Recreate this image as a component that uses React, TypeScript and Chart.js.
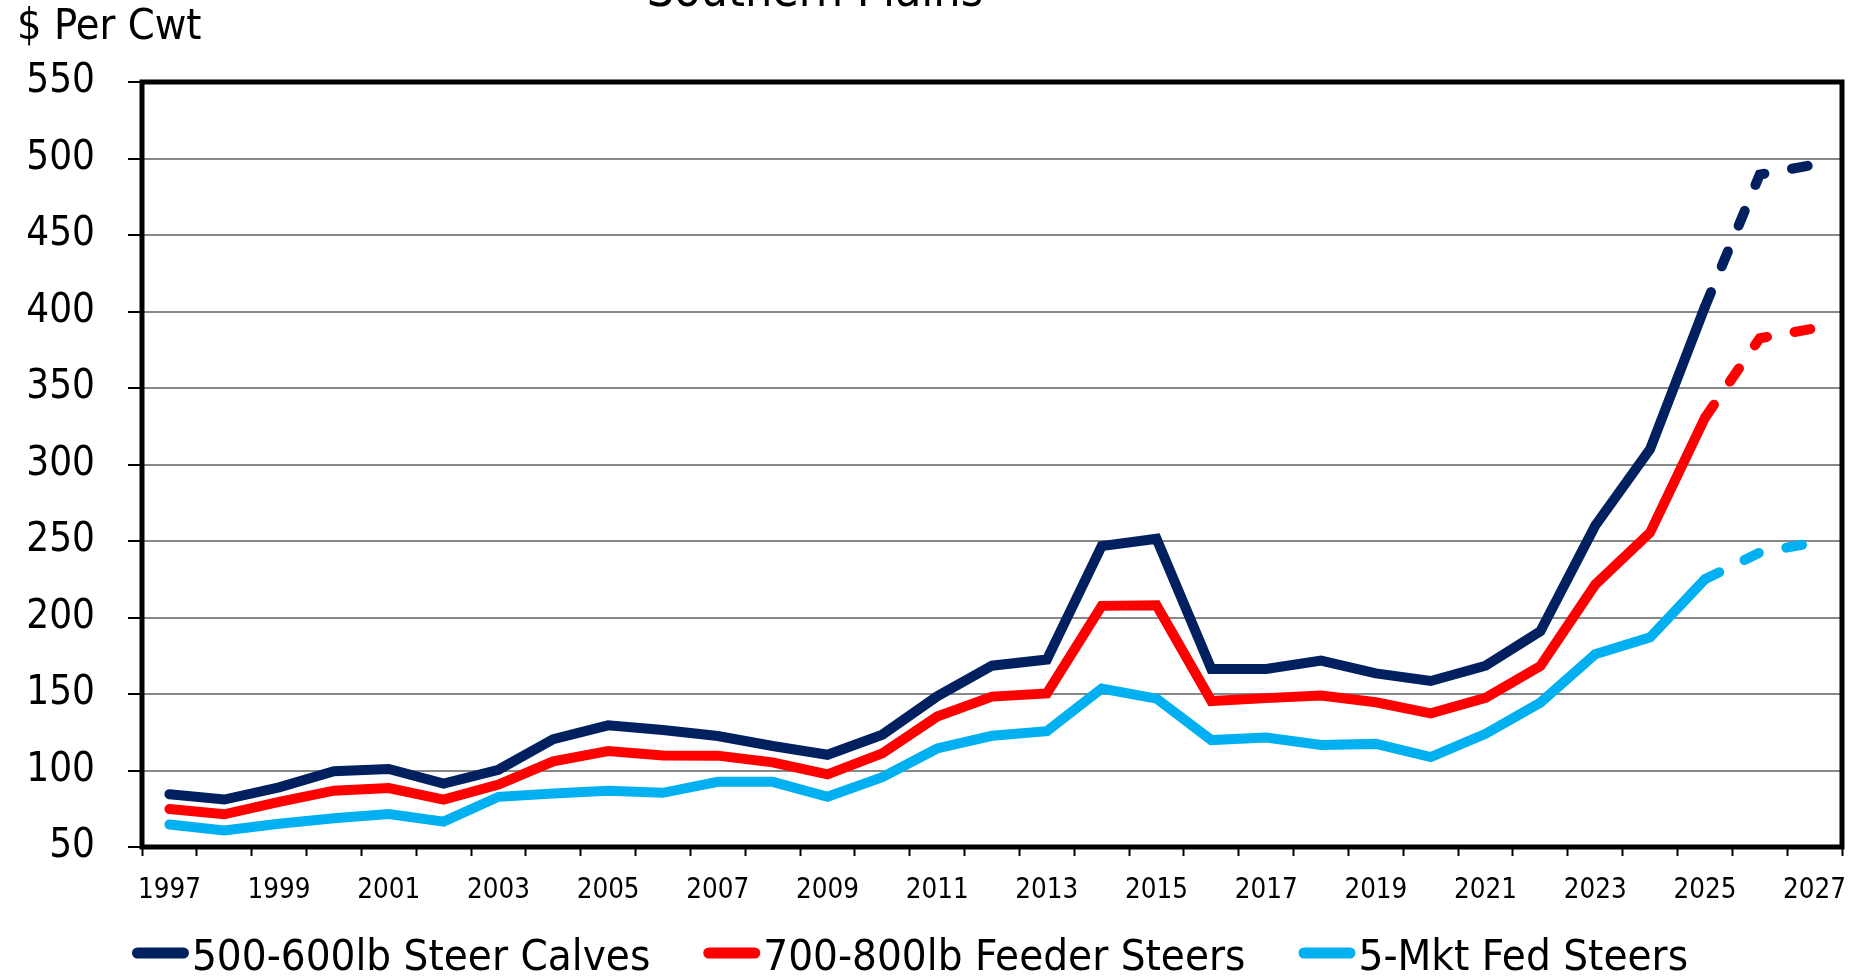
import React, { useEffect, useRef } from "react";
import { Chart, registerables } from "chart.js";

Chart.register(...registerables);

const years = [
  "1997", "1998", "1999", "2000", "2001", "2002", "2003", "2004", "2005", "2006",
  "2007", "2008", "2009", "2010", "2011", "2012", "2013", "2014", "2015", "2016",
  "2017", "2018", "2019", "2020", "2021", "2022", "2023", "2024", "2025", "2026", "2027",
];

const steerCalves = [
  84.5, 81, 89, 99.5, 101, 91.5, 100.5, 120.5, 129.5, 126.5,
  122.5, 116, 110.3, 123.4, 148.5, 168.5, 172.5, 246.7, 251.5, 166.4,
  166.4, 171.8, 163.5, 158.5, 168.5, 191, 260, 310, 403, 489.5, 496,
];

const feederSteers = [
  74.8, 71.4, 79.5, 86.8, 88.5, 81, 90.8, 106, 112.7, 109.8,
  109.7, 105.3, 97.5, 111.2, 135.3, 148.3, 150.4, 207.6, 208, 145.4,
  147.3, 149, 144.6, 137.4, 147.5, 168.3, 221.5, 255.5, 330.5, 382.5, 389,
];

const fedSteers = [
  64.7, 60.8, 65.2, 68.8, 71.5, 66.6, 82.8, 84.9, 86.8, 85.4,
  92.6, 92.6, 82.8, 95.6, 114.4, 122.7, 125.7, 153.5, 147, 119.9,
  121.5, 116.7, 117.4, 108.8, 124, 144.4, 176, 187, 225, 242.5, 249,
];

const seriesNames = ["500-600lb Steer Calves", "700-800lb Feeder Steers", "5-Mkt Fed Steers"];
const seriesColors = ["#002060", "#FF0000", "#00B0F0"];
const forecastFromYear = "2025";
const yMin = 50;
const yMax = 550;
const yStep = 50;
const titleText = "Southern Plains";
const yAxisTitle = "$ Per Cwt";

const CONDENSED = '"DejaVu Sans Condensed", "Liberation Sans Narrow", sans-serif';

const decorPlugin = {
  id: "decor",
  afterDraw(chart: any) {
    const ctx = chart.ctx as CanvasRenderingContext2D;
    const a = chart.chartArea;
    ctx.save();
    // plot border
    ctx.strokeStyle = "#000";
    ctx.lineWidth = 5;
    ctx.strokeRect(a.left, a.top, a.right - a.left, a.bottom - a.top);

    // title (cut off at top)
    ctx.fillStyle = "#000";
    ctx.font = `48px ${CONDENSED}`;
    ctx.textAlign = "center";
    ctx.textBaseline = "alphabetic";
    ctx.fillText(titleText, 815, 6);

    // y axis title
    ctx.textAlign = "left";
    ctx.font = `43px ${CONDENSED}`;
    ctx.fillText(yAxisTitle, 17, 39);

    // legend
    ctx.font = `43.5px ${CONDENSED}`;
    const markerW = 57;
    const gapText = 3;
    const gapItem = 53;
    const items = chart.data.datasets.map((ds: any) => ({
      label: ds.label,
      color: ds.borderColor,
      w: ctx.measureText(ds.label).width,
    }));
    const total =
      items.reduce((s: number, it: any) => s + markerW + gapText + it.w, 0) +
      gapItem * (items.length - 1);
    let x = 910 - total / 2;
    const cy = 953;
    for (const it of items) {
      ctx.strokeStyle = it.color;
      ctx.lineWidth = 11;
      ctx.lineCap = "round";
      ctx.beginPath();
      ctx.moveTo(x + 5.5, cy);
      ctx.lineTo(x + markerW - 5.5, cy);
      ctx.stroke();
      ctx.fillStyle = "#000";
      ctx.fillText(it.label, x + markerW + gapText, 970);
      x += markerW + gapText + it.w + gapItem;
    }
    ctx.restore();
  },
};

export default function App() {
  const ref = useRef<HTMLCanvasElement | null>(null);

  useEffect(() => {
    if (!ref.current) return;
    const forecastIdx = years.indexOf(forecastFromYear);
    const series = [steerCalves, feederSteers, fedSteers];
    const chart = new Chart(ref.current, {
      type: "line",
      data: {
        labels: years,
        datasets: series.map((d, i) => ({
          label: seriesNames[i],
          data: d,
          borderColor: seriesColors[i],
          backgroundColor: seriesColors[i],
          borderWidth: 10,
          pointRadius: 0,
          tension: 0,
          borderCapStyle: "round" as const,
          borderJoinStyle: "miter" as const,
          segment: {
            borderDash: (ctx: any) => (ctx.p0DataIndex >= forecastIdx ? [16, 28] : undefined),
          },
        })),
      },
      options: {
        responsive: false,
        animation: false,
        devicePixelRatio: 1,
        layout: { padding: { top: 82, right: 12, bottom: 0, left: 0 } },
        plugins: {
          legend: { display: false },
          title: { display: false },
          tooltip: { enabled: false },
        },
        scales: {
          x: {
            type: "category",
            offset: true,
            afterFit: (s: any) => {
              s.height = 130;
              s.paddingLeft = 0;
              s.paddingRight = 0;
            },
            grid: {
              offset: true,
              drawOnChartArea: false,
              drawTicks: true,
              tickLength: 9,
              tickColor: "#000",
              tickWidth: 2,
            },
            border: { display: false },
            ticks: {
              autoSkip: false,
              maxRotation: 0,
              minRotation: 0,
              padding: 18,
              color: "#000",
              font: { family: CONDENSED, size: 27.5 },
              callback: (_v: any, idx: number) => (idx % 2 === 0 ? years[idx] : ""),
            },
          },
          y: {
            min: yMin,
            max: yMax,
            afterFit: (s: any) => {
              s.width = 142;
            },
            grid: {
              color: "#888888",
              lineWidth: 2,
              drawTicks: true,
              tickLength: 14,
              tickColor: "#000",
              tickWidth: 2,
            },
            border: { display: false },
            ticks: {
              stepSize: yStep,
              padding: 33,
              color: "#000",
              font: { family: CONDENSED, size: 40 },
            },
          },
        },
      },
      plugins: [decorPlugin],
    });
    return () => chart.destroy();
  }, []);

  return (
    <div style={{ position: "absolute", left: 0, top: 0, width: 1854, height: 977, background: "#fff" }}>
      <canvas ref={ref} width={1854} height={977} />
    </div>
  );
}
